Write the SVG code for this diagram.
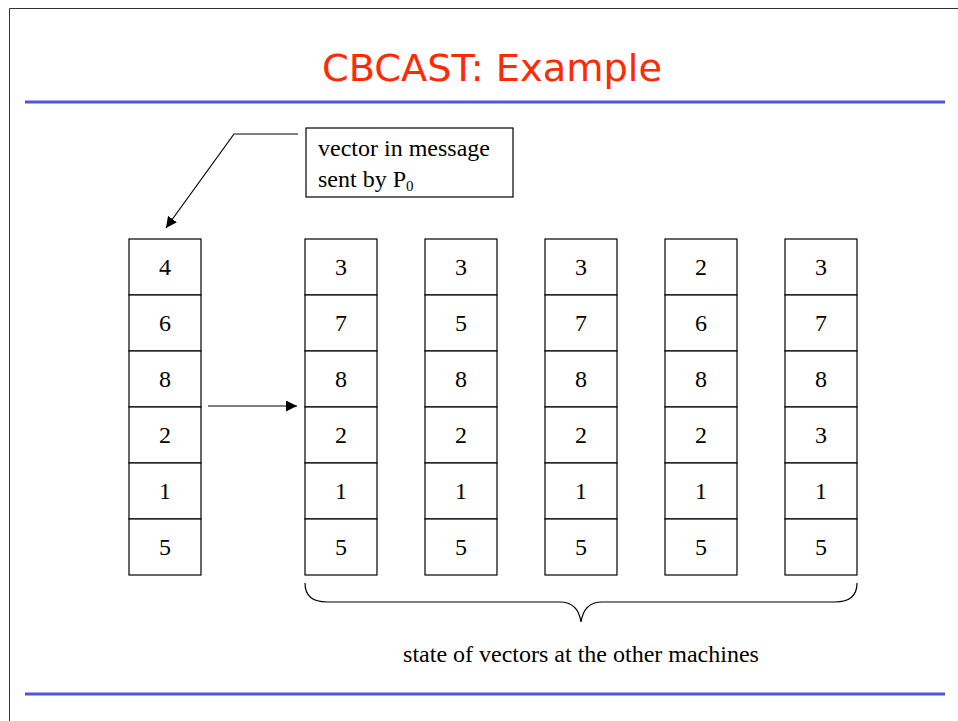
<svg xmlns="http://www.w3.org/2000/svg" width="958" height="721" viewBox="0 0 958 721">
<style>
.cell{fill:#fff;stroke:#000;stroke-width:1.2}
.num{font-family:"Liberation Serif",serif;font-size:24px;text-anchor:middle;fill:#000}
.lbl{font-family:"Liberation Serif",serif;font-size:24px;fill:#000}
.conn{fill:none;stroke:#000;stroke-width:1.2}
.rule{stroke:#4a57dc;stroke-width:3}
</style>
<defs>
<marker id="ah" viewBox="0 0 10 10" refX="10" refY="5" markerWidth="11" markerHeight="11" markerUnits="userSpaceOnUse" orient="auto">
<path d="M0,0 L10,5 L0,10 z" fill="#000"/>
</marker>
</defs>
<rect width="958" height="721" fill="#fff"/>
<path d="M9.5,721 V8.5 H958" fill="none" stroke="#333" stroke-width="1"/>
<text x="492" y="81" font-family="'DejaVu Sans',sans-serif" font-size="38" fill="#ff2a00" text-anchor="middle" textLength="340" lengthAdjust="spacingAndGlyphs">CBCAST: Example</text>
<line class="rule" x1="25" y1="102" x2="945" y2="102"/>
<line class="rule" x1="25" y1="694" x2="945" y2="694"/>

<g id="callout">
<rect x="306" y="128" width="207" height="69" fill="#fff" stroke="#000" stroke-width="1.2"/>
<text class="lbl" x="318" y="156">vector in message</text>
<text class="lbl" x="318" y="187">sent by P<tspan font-size="15" dy="4">0</tspan></text>
</g>

<g id="v0">
<rect class="cell" x="129" y="239" width="72" height="56"/><text class="num" x="165" y="275">4</text>
<rect class="cell" x="129" y="295" width="72" height="56"/><text class="num" x="165" y="331">6</text>
<rect class="cell" x="129" y="351" width="72" height="56"/><text class="num" x="165" y="387">8</text>
<rect class="cell" x="129" y="407" width="72" height="56"/><text class="num" x="165" y="443">2</text>
<rect class="cell" x="129" y="463" width="72" height="56"/><text class="num" x="165" y="499">1</text>
<rect class="cell" x="129" y="519" width="72" height="56"/><text class="num" x="165" y="555">5</text>
</g>
<g id="v1">
<rect class="cell" x="305" y="239" width="72" height="56"/><text class="num" x="341" y="275">3</text>
<rect class="cell" x="305" y="295" width="72" height="56"/><text class="num" x="341" y="331">7</text>
<rect class="cell" x="305" y="351" width="72" height="56"/><text class="num" x="341" y="387">8</text>
<rect class="cell" x="305" y="407" width="72" height="56"/><text class="num" x="341" y="443">2</text>
<rect class="cell" x="305" y="463" width="72" height="56"/><text class="num" x="341" y="499">1</text>
<rect class="cell" x="305" y="519" width="72" height="56"/><text class="num" x="341" y="555">5</text>
</g>
<g id="v2">
<rect class="cell" x="425" y="239" width="72" height="56"/><text class="num" x="461" y="275">3</text>
<rect class="cell" x="425" y="295" width="72" height="56"/><text class="num" x="461" y="331">5</text>
<rect class="cell" x="425" y="351" width="72" height="56"/><text class="num" x="461" y="387">8</text>
<rect class="cell" x="425" y="407" width="72" height="56"/><text class="num" x="461" y="443">2</text>
<rect class="cell" x="425" y="463" width="72" height="56"/><text class="num" x="461" y="499">1</text>
<rect class="cell" x="425" y="519" width="72" height="56"/><text class="num" x="461" y="555">5</text>
</g>
<g id="v3">
<rect class="cell" x="545" y="239" width="72" height="56"/><text class="num" x="581" y="275">3</text>
<rect class="cell" x="545" y="295" width="72" height="56"/><text class="num" x="581" y="331">7</text>
<rect class="cell" x="545" y="351" width="72" height="56"/><text class="num" x="581" y="387">8</text>
<rect class="cell" x="545" y="407" width="72" height="56"/><text class="num" x="581" y="443">2</text>
<rect class="cell" x="545" y="463" width="72" height="56"/><text class="num" x="581" y="499">1</text>
<rect class="cell" x="545" y="519" width="72" height="56"/><text class="num" x="581" y="555">5</text>
</g>
<g id="v4">
<rect class="cell" x="665" y="239" width="72" height="56"/><text class="num" x="701" y="275">2</text>
<rect class="cell" x="665" y="295" width="72" height="56"/><text class="num" x="701" y="331">6</text>
<rect class="cell" x="665" y="351" width="72" height="56"/><text class="num" x="701" y="387">8</text>
<rect class="cell" x="665" y="407" width="72" height="56"/><text class="num" x="701" y="443">2</text>
<rect class="cell" x="665" y="463" width="72" height="56"/><text class="num" x="701" y="499">1</text>
<rect class="cell" x="665" y="519" width="72" height="56"/><text class="num" x="701" y="555">5</text>
</g>
<g id="v5">
<rect class="cell" x="785" y="239" width="72" height="56"/><text class="num" x="821" y="275">3</text>
<rect class="cell" x="785" y="295" width="72" height="56"/><text class="num" x="821" y="331">7</text>
<rect class="cell" x="785" y="351" width="72" height="56"/><text class="num" x="821" y="387">8</text>
<rect class="cell" x="785" y="407" width="72" height="56"/><text class="num" x="821" y="443">3</text>
<rect class="cell" x="785" y="463" width="72" height="56"/><text class="num" x="821" y="499">1</text>
<rect class="cell" x="785" y="519" width="72" height="56"/><text class="num" x="821" y="555">5</text>
</g>

<g id="connectors">
<path class="conn" d="M298,134 H234 L166,228" marker-end="url(#ah)"/>
<path class="conn" d="M208,406 H297" marker-end="url(#ah)"/>
<path class="conn" d="M305,583 Q305,602 327,602 H560 Q578,602 581,622 Q584,602 602,602 H835 Q857,602 857,583"/>
</g>

<g id="caption">
<text class="lbl" x="581" y="662" text-anchor="middle">state of vectors at the other machines</text>
</g>
</svg>
